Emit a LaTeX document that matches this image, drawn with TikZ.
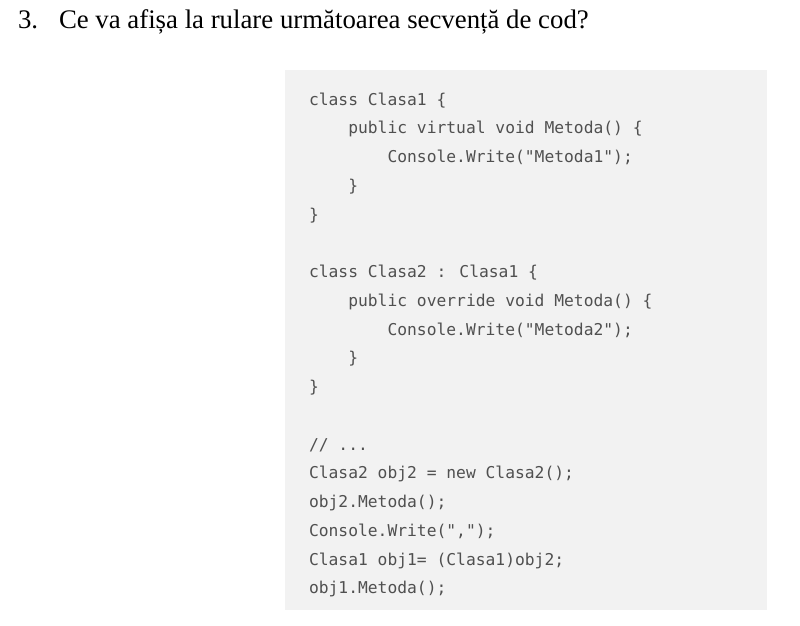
\documentclass[tikz,border=0pt]{standalone}
\usepackage{fontspec}
\setmainfont{Liberation Serif}
\newfontfamily\codefont{DejaVu Sans Mono}
\usepackage{xcolor}
\usetikzlibrary{positioning}
\definecolor{codebg}{HTML}{F2F2F2}
\definecolor{codetext}{HTML}{505050}
\newcommand{\indA}{\phantom{0000}}
\newcommand{\indB}{\phantom{00000000}}

\begin{document}
\begin{tikzpicture}[ % pixel-like units, y going down
        x=1pt, y=-1pt,
        every node/.style={inner sep=0pt, outer sep=0pt},
        qnode/.style={anchor=base west, font=\fontsize{26.8}{30}\selectfont}, % question line
        panel/.style={rectangle, fill=codebg, anchor=north west}, % grey code area
        codeline/.style={anchor=base west, text=codetext, font=\codefont\fontsize{16.3}{20}\selectfont}
    ]
    \useasboundingbox (0,0) rectangle (800,625);
    % --- Question ---
    \node (num) [qnode] at (18,28) {3.};
    \node (question) [qnode] at (59,28) {Ce va afișa la rulare următoarea secvență de cod?};
    % --- Code panel ---
    \node (panel) [panel, minimum width=482pt, minimum height=540pt] at (285,70) {};
    \foreach \i/\txt in {
        0/{class Clasa1 \{},
        1/{\indA public virtual void Metoda() \{},
        2/{\indB Console.Write("Metoda1");},
        3/{\indA \}},
        4/{\}},
        6/{class Clasa2 : Clasa1 \{},
        7/{\indA public override void Metoda() \{},
        8/{\indB Console.Write("Metoda2");},
        9/{\indA \}},
        10/{\}},
        12/{{//} ...},
        13/{Clasa2 obj2 = new Clasa2();},
        14/{obj2.Metoda();},
        15/{Console.Write(",");},
        16/{Clasa1 obj1= (Clasa1)obj2;},
        17/{obj1.Metoda();}}
        \node (line\i) [codeline] at (309,{105+28.75*\i}) {\txt};
\end{tikzpicture}
\end{document}
